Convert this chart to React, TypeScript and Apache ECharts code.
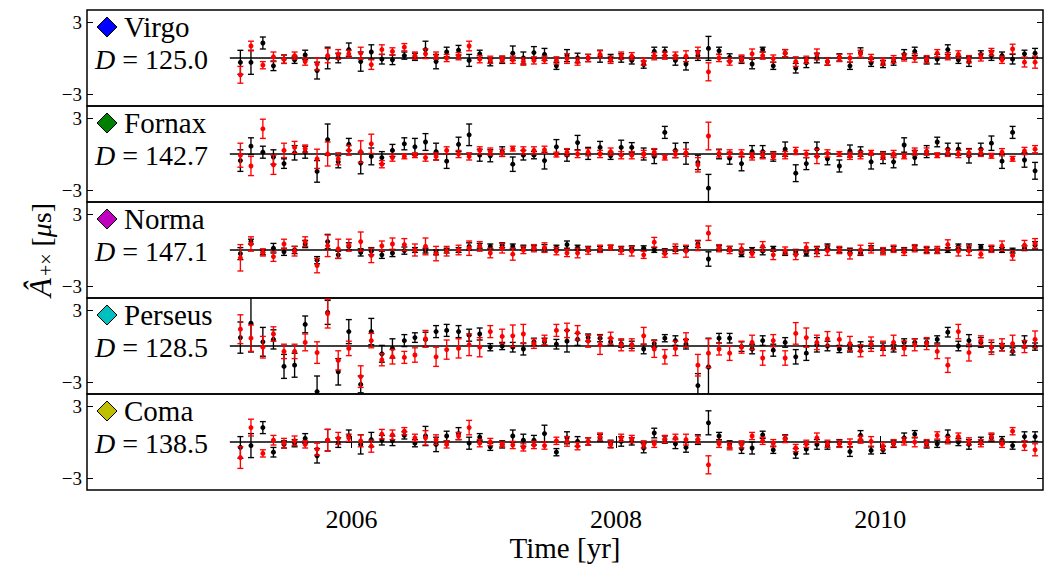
import React, { useEffect, useRef } from "react";
import * as echarts from "echarts";

const FONT = "Liberation Serif, DejaVu Serif, serif";

// observation epochs (yr)
const epochs = [
  2005.16, 2005.24, 2005.33, 2005.41, 2005.49, 2005.57, 2005.65, 2005.74, 2005.82, 2005.90,
  2005.98, 2006.07, 2006.15, 2006.23, 2006.31, 2006.40, 2006.48, 2006.56, 2006.64, 2006.72,
  2006.81, 2006.89, 2006.97, 2007.05, 2007.14, 2007.22, 2007.30, 2007.38, 2007.46, 2007.55,
  2007.63, 2007.71, 2007.79, 2007.88, 2007.96, 2008.04, 2008.12, 2008.21, 2008.29, 2008.37,
  2008.45, 2008.53, 2008.62, 2008.70, 2008.78, 2008.86, 2008.95, 2009.03, 2009.11, 2009.19,
  2009.28, 2009.36, 2009.44, 2009.52, 2009.60, 2009.69, 2009.77, 2009.85, 2009.93, 2010.02,
  2010.10, 2010.18, 2010.26, 2010.35, 2010.43, 2010.51, 2010.59, 2010.67, 2010.76, 2010.84,
  2010.92, 2011.00, 2011.09, 2011.17,
];

const clusters = ["Virgo", "Fornax", "Norma", "Perseus", "Coma"];
const distances = ["125.0", "142.7", "147.1", "128.5", "138.5"];
const markerColors = ["#0000ff", "#008000", "#bf00bf", "#00bfbf", "#bfbf00"];
const yTicks = [-3, 3];
const xTicks = [2006, 2008, 2010];
const xRange = [2004, 2011.23];
const yRange = [-4, 4];
const zeroLineSpan = [2005.08, 2011.23];

// Virgo
const virgoBlack = [
  -0.36, -0.36, 1.25, -0.65, -0.1, -0.15, 0.25, -1.05, 0, 0,
  0.7, -0.3, 0.5, -0.1, -0.15, 0.2, 0.1, 0.7, -0.3, 0.5,
  0.65, -0.2, 0.35, -0.35, -0.15, 0.4, 0, 0.45, 0.3, -0.65,
  0.2, 0, 0, 0.15, 0, 0, -0.2, -0.55, 0.55, 0.55,
  -0.2, -0.5, 0.2, 0.8, 0.6, 0.05, -0.15, -0.5, 0.7, -0.65,
  0.4, -0.85, -0.4, 0, -0.3, 0.05, -0.65, 0.45, -0.4, -0.5,
  -0.3, 0.3, 0.55, -0.2, -0.1, 0.7, -0.15, -0.3, 0.3, 0.2,
  0.2, -0.1, 0.35, 0.4,
];
const virgoBlackErr = [
  1.0, 1.0, 0.5, 0.4, 0.35, 0.3, 0.4, 0.7, 0.9, 0.4,
  0.55, 0.8, 0.6, 0.4, 0.4, 0.3, 0.3, 0.7, 0.6, 0.4,
  0.4, 0.5, 0.3, 0.3, 0.3, 0.6, 0.5, 0.5, 0.5, 0.3,
  0.5, 0.4, 0.3, 0.5, 0.3, 0.35, 0.3, 0.3, 0.35, 0.35,
  0.4, 0.5, 0.4, 1.0, 0.3, 0.3, 0.3, 0.4, 0.2, 0.3,
  0.3, 0.4, 0.4, 0.4, 0.3, 0.3, 0.3, 0.4, 0.3, 0.3,
  0.3, 0.4, 0.35, 0.3, 0.4, 0.4, 0.3, 0.4, 0.3, 0.4,
  0.3, 0.4, 0.3, 0.4,
];
const virgoRed = [
  -1.4, 1.0, -0.6, 0.1, -0.1, 0.2, -0.3, -0.5, 0.2, 0.3,
  0.35, 0.4, -0.55, 0.7, 0.55, 0.9, 0.2, 0.35, 0.2, 0,
  0.15, 1.0, -0.1, -0.15, -0.1, -0.15, -0.3, -0.2, -0.15, -0.2,
  -0.05, -0.3, 0, 0.3, -0.15, 0.2, 0.15, -0.3, 0.15, 0.2,
  0.2, 0.15, 0.45, -1.15, 0, -0.3, -0.05, 0.35, 0.2, -0.05,
  0.4, -0.3, -0.15, 0.3, -0.3, 0, 0, 0.35, 0, -0.3,
  -0.1, 0.05, 0, -0.1, 0.4, 0.15, 0.3, -0.1, 0.05, 0.5,
  -0.15, 0.75, -0.35, -0.35,
];
const virgoRedErr = [
  0.7, 0.4, 0.3, 0.4, 0.35, 0.3, 0.3, 0.5, 0.6, 0.4,
  0.3, 0.5, 0.4, 0.4, 0.3, 0.3, 0.3, 0.4, 0.3, 0.3,
  0.3, 0.4, 0.3, 0.3, 0.25, 0.3, 0.3, 0.3, 0.3, 0.3,
  0.4, 0.3, 0.3, 0.3, 0.3, 0.3, 0.3, 0.3, 0.3, 0.3,
  0.3, 0.45, 0.45, 0.75, 0.3, 0.3, 0.3, 0.4, 0.3, 0.3,
  0.3, 0.4, 0.3, 0.45, 0.3, 0.3, 0.35, 0.3, 0.3, 0.3,
  0.3, 0.3, 0.35, 0.3, 0.3, 0.3, 0.3, 0.3, 0.3, 0.3,
  0.3, 0.4, 0.4, 0.5,
];

// Fornax
const fornaxBlack = [
  -0.55, 0.65, 0.15, -0.25, -0.8, 0.1, 0.15, -1.45, 1.2, -0.65,
  0.8, -0.75, -0.2, -0.3, 0.3, 0.85, 0.6, 1.0, 0.2, -0.6,
  0.8, 1.6, -0.1, -0.15, 0.2, -0.85, -0.1, -0.1, -0.55, 0.6,
  -0.1, 0.95, 0.05, 0.55, -0.15, 0.55, 0.55, 0, -0.2, 1.8,
  0.3, 0.05, -0.7, -2.85, 0, -0.35, -0.8, 0.2, 0.2, -0.2,
  0.4, -1.6, -0.8, 0.4, -0.4, -1.0, 0.25, 0.2, -0.65, -0.3,
  -0.65, 0.75, -0.3, 0.2, 1.0, 0.4, 0.4, -0.15, 0.4, 0.9,
  -0.6, 1.8, -0.5, -1.4,
];
const fornaxBlackErr = [
  0.9, 0.7, 0.5, 0.6, 0.4, 0.6, 0.5, 0.9, 1.3, 0.5,
  0.5, 0.9, 0.7, 0.5, 0.5, 0.5, 0.7, 0.7, 0.7, 0.6,
  0.6, 0.9, 0.5, 0.5, 0.4, 0.6, 0.4, 0.3, 0.7, 0.6,
  0.5, 0.6, 0.5, 0.5, 0.3, 0.6, 0.4, 0.5, 0.6, 0.5,
  0.6, 0.9, 0.6, 1.15, 0.4, 0.5, 0.6, 0.5, 0.5, 0.4,
  0.6, 0.7, 0.5, 0.6, 0.5, 0.5, 0.5, 0.4, 0.6, 0.5,
  0.5, 0.6, 0.6, 0.5, 0.4, 0.5, 0.5, 0.6, 0.5, 0.6,
  0.6, 0.5, 0.6, 0.7,
];
const fornaxRed = [
  -0.1, -1.0, 2.1, -0.9, 0.3, 0.55, 0.45, -0.4, 0, -0.4,
  0.3, 0.2, 0.85, -0.85, -0.3, -0.2, -0.1, -0.3, -0.2, 0.3,
  0, -0.2, 0.3, 0.2, 0.1, 0.45, 0.3, 0.3, 0.35, -0.05,
  0.15, 0, 0.15, 0, 0.2, -0.1, -0.1, 0, 0.15, -0.3,
  0, 0.1, -0.9, 1.5, 0.05, 0.05, 0.05, -0.2, -0.1, -0.15,
  -0.1, 0.25, 0, -0.2, 0.05, 0, -0.15, -0.1, 0.1, -0.15,
  0, -0.2, 0.2, 0.2, -0.1, 0.1, 0, 0.1, 0.1, -0.15,
  0.15, -0.4, 0.25, 0.4,
];
const fornaxRedErr = [
  1.0, 0.8, 0.8, 0.8, 0.6, 0.5, 0.3, 0.8, 1.0, 0.5,
  0.4, 0.9, 0.8, 0.3, 0.3, 0.2, 0.2, 0.3, 0.3, 0.3,
  0.3, 0.3, 0.3, 0.3, 0.3, 0.2, 0.3, 0.3, 0.3, 0.2,
  0.3, 0.3, 0.3, 0.3, 0.3, 0.3, 0.3, 0.3, 0.3, 0.2,
  0.3, 0.3, 0.6, 1.15, 0.3, 0.3, 0.3, 0.3, 0.3, 0.3,
  0.3, 0.3, 0.3, 0.6, 0.3, 0.2, 0.3, 0.3, 0.2, 0.3,
  0.3, 0.2, 0.3, 0.3, 0.2, 0.3, 0.3, 0.3, 0.3, 0.2,
  0.3, 0.2, 0.3, 0.3,
];

// Norma
const normaBlack = [
  -0.3, 0.7, -0.2, 0.15, -0.15, 0, 0.5, -0.85, 0.7, -0.4,
  0.3, -0.2, -0.1, -0.4, -0.25, -0.05, 0, -0.05, -0.2, -0.05,
  0, 0.3, 0.35, 0.3, 0.4, 0.3, 0.2, 0.15, 0.15, 0.2,
  0.45, 0.2, 0.1, 0.1, 0.2, 0.1, 0.15, 0.15, 0, -0.1,
  0.1, 0.1, 0.5, -0.75, 0.15, 0.1, -0.35, 0, -0.1, 0.1,
  -0.25, -0.15, -0.3, 0, 0.3, 0, -0.05, -0.25, 0.15, -0.05,
  0.1, 0, 0.15, 0, -0.05, 0, 0.3, 0.2, 0.25, 0.1,
  0, -0.05, 0.15, 0.4,
];
const normaBlackErr = [
  0.5, 0.2, 0.2, 0.4, 0.3, 0.3, 0.3, 0.3, 0.6, 0.3,
  0.3, 0.3, 0.3, 0.3, 0.3, 0.3, 0.2, 0.2, 0.2, 0.2,
  0.2, 0.3, 0.2, 0.2, 0.2, 0.2, 0.2, 0.2, 0.3, 0.2,
  0.3, 0.2, 0.2, 0.2, 0.2, 0.2, 0.2, 0.2, 0.2, 0.2,
  0.2, 0.2, 0.3, 0.6, 0.2, 0.2, 0.2, 0.2, 0.3, 0.2,
  0.2, 0.2, 0.2, 0.3, 0.2, 0.2, 0.2, 0.2, 0.2, 0.2,
  0.2, 0.2, 0.2, 0.2, 0.2, 0.2, 0.2, 0.3, 0.2, 0.2,
  0.2, 0.2, 0.2, 0.3,
];
const normaRed = [
  -0.65, 0.5, -0.2, -0.55, 0.5, -0.1, 0.7, -1.3, 0.35, 0.1,
  0.4, 0.7, -0.45, 0.35, 0.5, 0.45, 0, 0.3, -0.3, -0.1,
  0, 0.15, 0.3, -0.25, 0.15, -0.35, 0, 0.15, 0.2, -0.1,
  -0.25, -0.25, -0.05, 0.1, 0.2, -0.05, -0.1, -0.4, 0.65, -0.3,
  0.1, -0.1, 0.35, 1.4, 0.15, 0, 0.1, -0.3, 0.3, -0.4,
  -0.05, -0.4, 0.2, -0.15, -0.05, 0, -0.35, 0, 0.15, -0.1,
  0.1, -0.15, 0.15, 0, 0, 0.45, -0.1, -0.05, -0.35, 0.1,
  0.35, -0.45, 0.4, 0.55,
];
const normaRedErr = [
  1.1, 0.6, 0.3, 0.4, 0.4, 0.4, 0.4, 0.6, 0.9, 0.8,
  0.5, 0.8, 0.6, 0.4, 0.5, 0.5, 0.5, 0.7, 0.6, 0.4,
  0.4, 0.6, 0.4, 0.4, 0.4, 0.5, 0.3, 0.3, 0.4, 0.3,
  0.3, 0.4, 0.3, 0.3, 0.2, 0.3, 0.4, 0.3, 0.4, 0.3,
  0.4, 0.5, 0.4, 0.6, 0.3, 0.3, 0.4, 0.3, 0.4, 0.4,
  0.3, 0.4, 0.4, 0.4, 0.4, 0.3, 0.4, 0.4, 0.4, 0.3,
  0.3, 0.3, 0.3, 0.3, 0.3, 0.4, 0.4, 0.4, 0.3, 0.3,
  0.4, 0.4, 0.4, 0.4,
];

// Perseus
const perseusBlack = [
  0.7, 1.9, 0.35, 0.55, -1.7, -1.6, 1.8, -3.8, 2.8, -2.15,
  1.2, -3.2, 1.2, -0.65, -0.2, 0.45, 0.7, 0.55, 1.2, 1.3,
  1.2, 0.9, 1.0, -0.1, 0, -0.1, -0.25, 0.35, 0.35, 0.15,
  0.4, 0.55, 0.7, 0.65, 0.35, 0.2, 0.1, -0.25, 0.2, 0.65,
  0.45, 0.15, -3.3, -1.75, 0.65, 0.65, -0.05, -0.25, 0.45, -0.35,
  0.3, -0.9, -0.6, 0.1, 0, -0.25, -0.2, -0.05, 0.1, -0.05,
  -0.2, 0.3, 0.3, 0.3, 0.55, 1.15, 0, 0.45, 0.3, -0.1,
  -0.1, -0.45, 0.35, -0.05,
];
const perseusBlackErr = [
  1.3, 2.4, 1.2, 0.8, 1.0, 1.0, 0.7, 1.3, 1.0, 1.1,
  1.0, 0.7, 1.1, 0.7, 0.8, 0.5, 0.4, 0.6, 0.5, 0.5,
  0.5, 0.5, 0.5, 0.3, 0.3, 0.4, 0.5, 0.3, 0.3, 0.4,
  0.9, 0.5, 0.3, 0.3, 0.3, 0.3, 0.3, 0.4, 0.3, 0.3,
  0.4, 0.4, 1.0, 2.4, 0.4, 0.4, 0.4, 0.4, 0.4, 0.5,
  0.4, 0.6, 0.6, 0.6, 0.4, 0.3, 0.3, 0.4, 0.3, 0.3,
  0.3, 0.3, 0.3, 0.3, 0.3, 0.4, 0.4, 0.5, 0.4, 0.4,
  0.3, 0.3, 0.5, 0.3,
];
const perseusRed = [
  1.4, 0.65, -0.1, 1.0, -0.45, -0.45, 0.3, -0.55, 2.7, -1.2,
  -0.2, -2.55, 0.45, -1.15, -0.9, -0.95, -0.75, 0.6, -0.9, -0.3,
  -0.2, 0.1, -0.1, 1.2, 0.8, 0.85, 1.0, 0.2, 0.5, 1.3,
  1.3, 1.1, 0.4, 0.1, 0.65, 0.1, 0.1, 0.85, -0.25, -0.9,
  -0.2, 0.5, -1.6, -0.6, -0.25, -0.6, -0.1, 0.3, -1.0, 0.45,
  -1.0, 1.05, 0.7, 0.3, 0.6, 0.55, 0.2, -0.4, 0.15, -0.2,
  0.3, -0.2, 0.1, 0.2, -0.45, -1.6, 1.2, -0.55, 0.45, -0.1,
  0.1, 0.2, -0.05, 0.55,
];
const perseusRedErr = [
  1.2, 1.1, 0.9, 0.6, 0.6, 0.6, 0.7, 0.9, 1.2, 0.8,
  0.6, 0.9, 0.6, 0.5, 0.6, 0.5, 0.6, 0.7, 0.8, 0.8,
  0.8, 0.9, 0.8, 0.5, 0.6, 0.9, 0.8, 0.4, 0.4, 0.5,
  0.6, 0.6, 0.5, 0.8, 0.5, 0.5, 0.5, 0.7, 0.7, 0.6,
  0.6, 0.6, 0.9, 1.2, 0.5, 0.6, 0.5, 0.6, 0.6, 0.5,
  0.6, 0.9, 0.8, 0.6, 0.6, 0.6, 0.6, 0.5, 0.6, 0.6,
  0.6, 0.6, 0.5, 0.5, 0.6, 0.6, 0.6, 0.7, 0.4, 0.6,
  0.5, 0.7, 0.5, 0.7,
];

// Coma
const comaBlack = [
  -0.45, -0.3, 1.2, -0.85, -0.2, -0.1, 0.3, -1.15, 0.15, -0.05,
  0.5, -0.2, 0.2, 0.15, 0.1, 0.55, -0.1, 0.5, -0.2, 0.5,
  0.7, -0.1, 0.4, -0.4, -0.2, 0.5, 0.15, 0.15, 0.7, -0.85,
  0.35, 0.05, 0.05, 0.35, -0.15, 0.05, 0.05, -0.5, 0.75, 0.2,
  -0.15, -0.45, 0.2, 1.6, 0.5, -0.2, -0.55, -0.5, 0.6, -0.65,
  0.3, -0.95, -0.6, -0.2, -0.3, -0.1, -0.8, 0.55, -0.7, -0.65,
  -0.15, 0.35, 0.65, -0.2, -0.15, 0.5, 0, -0.2, 0.1, 0.35,
  0.15, -0.3, 0.45, 0.45,
];
const comaBlackErr = [
  0.9, 1.0, 0.5, 0.4, 0.3, 0.3, 0.4, 0.6, 0.9, 0.4,
  0.5, 0.8, 0.6, 0.4, 0.4, 0.3, 0.3, 0.8, 0.6, 0.4,
  0.5, 0.5, 0.3, 0.3, 0.3, 0.5, 0.5, 0.4, 0.7, 0.3,
  0.5, 0.4, 0.3, 0.3, 0.3, 0.4, 0.3, 0.4, 0.4, 0.3,
  0.4, 0.4, 0.4, 1.0, 0.3, 0.3, 0.4, 0.5, 0.3, 0.3,
  0.3, 0.4, 0.4, 0.4, 0.3, 0.3, 0.4, 0.4, 0.3, 0.3,
  0.3, 0.4, 0.3, 0.3, 0.3, 0.5, 0.3, 0.4, 0.3, 0.3,
  0.3, 0.3, 0.4, 0.4,
];
const comaRed = [
  -1.3, 1.2, -0.95, 0.15, -0.1, 0.1, -0.2, -0.6, 0.15, 0.3,
  0.35, 0.1, -0.35, 0.65, 0.6, 0.9, 0.35, 0.35, 0.2, -0.2,
  0.5, 1.2, -0.1, 0, -0.2, -0.25, -0.45, -0.25, -0.3, 0.1,
  0.05, -0.35, 0.05, 0.45, -0.2, 0.35, 0.25, -0.2, -0.15, 0.25,
  0.35, 0.2, 0.2, -1.9, -0.15, -0.35, -0.2, 0.5, 0.1, -0.1,
  0.25, -0.5, -0.15, 0.35, -0.15, -0.15, -0.1, 0.2, 0.05, -0.35,
  -0.1, 0.05, 0, -0.1, 0.55, 0.15, 0.45, 0.05, -0.1, 0.45,
  -0.15, 0.9, -0.3, -0.65,
];
const comaRedErr = [
  0.9, 0.7, 0.3, 0.4, 0.4, 0.4, 0.3, 0.5, 0.9, 0.5,
  0.3, 0.5, 0.5, 0.4, 0.4, 0.3, 0.3, 0.6, 0.4, 0.3,
  0.3, 0.6, 0.3, 0.3, 0.2, 0.3, 0.3, 0.3, 0.3, 0.3,
  0.4, 0.3, 0.3, 0.3, 0.3, 0.3, 0.3, 0.3, 0.3, 0.3,
  0.3, 0.45, 0.3, 0.75, 0.3, 0.3, 0.3, 0.3, 0.3, 0.3,
  0.3, 0.3, 0.3, 0.4, 0.3, 0.3, 0.35, 0.3, 0.4, 0.3,
  0.3, 0.3, 0.4, 0.3, 0.3, 0.3, 0.3, 0.3, 0.3, 0.3,
  0.3, 0.3, 0.4, 0.5,
];

const panelBlack = [virgoBlack, fornaxBlack, normaBlack, perseusBlack, comaBlack];
const panelBlackErr = [virgoBlackErr, fornaxBlackErr, normaBlackErr, perseusBlackErr, comaBlackErr];
const panelRed = [virgoRed, fornaxRed, normaRed, perseusRed, comaRed];
const panelRedErr = [virgoRedErr, fornaxRedErr, normaRedErr, perseusRedErr, comaRedErr];

// layout (px)
const W = 1055;
const H = 573;
const LEFT = 87;
const RIGHT = 12;
const TOP0 = 10;
const PH = 96;
const N = 5;

const fmtTick = (v: number) => (v < 0 ? "\u2212" + Math.abs(v) : String(v));
const fmtYear = (v: number) => String(Math.round(v));

function errRenderer(color: string) {
  return (params: any, api: any) => {
    const x = api.value(0);
    const y = api.value(1);
    const e = api.value(2);
    const cs = params.coordSys;
    const top = cs.y;
    const bot = cs.y + cs.height;
    const p = api.coord([x, y]);
    const hi = api.coord([x, y + e]);
    const lo = api.coord([x, y - e]);
    const clamp = (v: number) => Math.max(top, Math.min(bot, v));
    const style = { stroke: color, lineWidth: 1.35, fill: null };
    const children: any[] = [
      { type: "line", shape: { x1: p[0], y1: clamp(hi[1]), x2: p[0], y2: clamp(lo[1]) }, style },
    ];
    if (hi[1] >= top) children.push({ type: "line", shape: { x1: p[0] - 3, y1: hi[1], x2: p[0] + 3, y2: hi[1] }, style });
    if (lo[1] <= bot) children.push({ type: "line", shape: { x1: p[0] - 3, y1: lo[1], x2: p[0] + 3, y2: lo[1] }, style });
    if (p[1] >= top && p[1] <= bot)
      children.push({ type: "circle", shape: { cx: p[0], cy: p[1], r: 2.5 }, style: { fill: color, stroke: null } });
    return { type: "group", children };
  };
}

function buildOption() {
  const grids: any[] = [];
  const xAxes: any[] = [];
  const yAxes: any[] = [];
  const series: any[] = [];
  const graphics: any[] = [];

  for (let i = 0; i < N; i++) {
    const top = TOP0 + PH * i;
    grids.push({
      left: LEFT,
      right: RIGHT,
      top,
      height: PH,
      show: true,
      borderColor: "#000",
      borderWidth: 1.5,
      backgroundColor: "transparent",
      containLabel: false,
      outerBoundsMode: "none",
    });
    const last = i === N - 1;
    xAxes.push({
      type: "value",
      gridIndex: i,
      min: xRange[0],
      max: xRange[1],
      axisLine: { show: false },
      splitLine: { show: false },
      axisTick: { show: last, inside: true, length: 6, customValues: xTicks, lineStyle: { color: "#000", width: 1 } },
      axisLabel: {
        show: last,
        customValues: xTicks,
        formatter: fmtYear,
        color: "#000",
        fontFamily: FONT,
        fontSize: 26,
        lineHeight: 26,
        margin: 16,
      },
    });
    yAxes.push({
      type: "value",
      gridIndex: i,
      min: yRange[0],
      max: yRange[1],
      axisLine: { show: false },
      splitLine: { show: false },
      axisTick: { show: true, inside: true, length: 6, customValues: yTicks, lineStyle: { color: "#000", width: 1 } },
      axisLabel: {
        show: true,
        customValues: yTicks,
        formatter: fmtTick,
        color: "#000",
        fontFamily: FONT,
        fontSize: 19,
        margin: 5,
      },
    });

    // zero line
    series.push({
      type: "line",
      xAxisIndex: i,
      yAxisIndex: i,
      data: [
        [zeroLineSpan[0], 0],
        [zeroLineSpan[1], 0],
      ],
      symbol: "none",
      silent: true,
      lineStyle: { color: "#000", width: 1.6 },
      z: 1,
    });
    series.push({
      type: "custom",
      xAxisIndex: i,
      yAxisIndex: i,
      encode: { x: 0, y: 1 },
      data: epochs.map((t, k) => [t, panelBlack[i][k], panelBlackErr[i][k]]),
      renderItem: errRenderer("#000000"),
      z: 2,
    });
    series.push({
      type: "custom",
      xAxisIndex: i,
      yAxisIndex: i,
      encode: { x: 0, y: 1 },
      data: epochs.map((t, k) => [t, panelRed[i][k], panelRedErr[i][k]]),
      renderItem: errRenderer("#ff0000"),
      z: 3,
    });

    // legend-like labels
    const cy = top + 17;
    graphics.push({
      type: "polygon",
      shape: {
        points: [
          [107, cy - 10],
          [117, cy],
          [107, cy + 10],
          [97, cy],
        ],
      },
      style: { fill: markerColors[i], stroke: "#000", lineWidth: 1 },
      z: 10,
    });
    graphics.push({
      type: "text",
      x: 124,
      y: cy,
      style: {
        text: clusters[i],
        fontFamily: FONT,
        fontSize: 29,
        fill: "#000",
        textAlign: "left",
        textVerticalAlign: "middle",
      },
      z: 10,
    });
    graphics.push({
      type: "text",
      x: 95,
      y: top + 49,
      style: {
        text: `{i|D} = ${distances[i]}`,
        fontFamily: FONT,
        fontSize: 28,
        fill: "#000",
        textAlign: "left",
        textVerticalAlign: "middle",
        rich: {
          i: { fontFamily: FONT, fontSize: 28, fontStyle: "italic", fill: "#000" },
        },
      },
      z: 10,
    });
  }

  // right-side ticks for each panel
  for (let i = 0; i < N; i++) {
    yAxes.push({
      type: "value",
      gridIndex: i,
      position: "right",
      min: yRange[0],
      max: yRange[1],
      axisLine: { show: false },
      splitLine: { show: false },
      axisTick: { show: true, inside: true, length: 6, customValues: yTicks, lineStyle: { color: "#000", width: 1 } },
      axisLabel: { show: false },
    });
  }
  // top ticks for bottom panel
  xAxes.push({
    type: "value",
    gridIndex: N - 1,
    position: "top",
    min: xRange[0],
    max: xRange[1],
    axisLine: { show: false },
    splitLine: { show: false },
    axisTick: { show: true, inside: true, length: 6, customValues: xTicks, lineStyle: { color: "#000", width: 1 } },
    axisLabel: { show: false },
  });

  // axis titles
  graphics.push({
    type: "text",
    x: (LEFT + (W - RIGHT)) / 2,
    y: 548,
    style: {
      text: "Time [yr]",
      fontFamily: FONT,
      fontSize: 29,
      lineHeight: 29,
      fill: "#000",
      textAlign: "center",
      textVerticalAlign: "middle",
    },
  });
  graphics.push({
    type: "text",
    x: 40,
    y: TOP0 + (PH * N) / 2,
    rotation: Math.PI / 2,
    style: {
      text: "{a|\u00C2}{s|+\u00D7}{n| [}{i|\u03BC}{n|s]}",
      fontFamily: FONT,
      fontSize: 28,
      fill: "#000",
      textAlign: "center",
      textVerticalAlign: "middle",
      rich: {
        a: { fontFamily: FONT, fontSize: 31, fontStyle: "italic", fill: "#000", verticalAlign: "bottom" },
        s: { fontFamily: FONT, fontSize: 20, fill: "#000", verticalAlign: "bottom", padding: [0, 0, 0, 2] },
        n: { fontFamily: FONT, fontSize: 28, fill: "#000", verticalAlign: "bottom" },
        i: { fontFamily: FONT, fontSize: 28, fontStyle: "italic", fill: "#000", verticalAlign: "bottom" },
      },
    },
  });

  return {
    animation: false,
    backgroundColor: "#ffffff",
    textStyle: { fontFamily: FONT },
    grid: grids,
    xAxis: xAxes,
    yAxis: yAxes,
    series,
    graphic: graphics,
  };
}

export default function App() {
  const ref = useRef<HTMLDivElement>(null);
  useEffect(() => {
    if (!ref.current) return;
    const chart = echarts.init(ref.current, null, { renderer: "svg" });
    chart.setOption(buildOption() as any);
    return () => chart.dispose();
  }, []);
  return (
    <div
      ref={ref}
      style={{ position: "absolute", left: 0, top: 0, width: W, height: H, background: "#fff" }}
    />
  );
}
